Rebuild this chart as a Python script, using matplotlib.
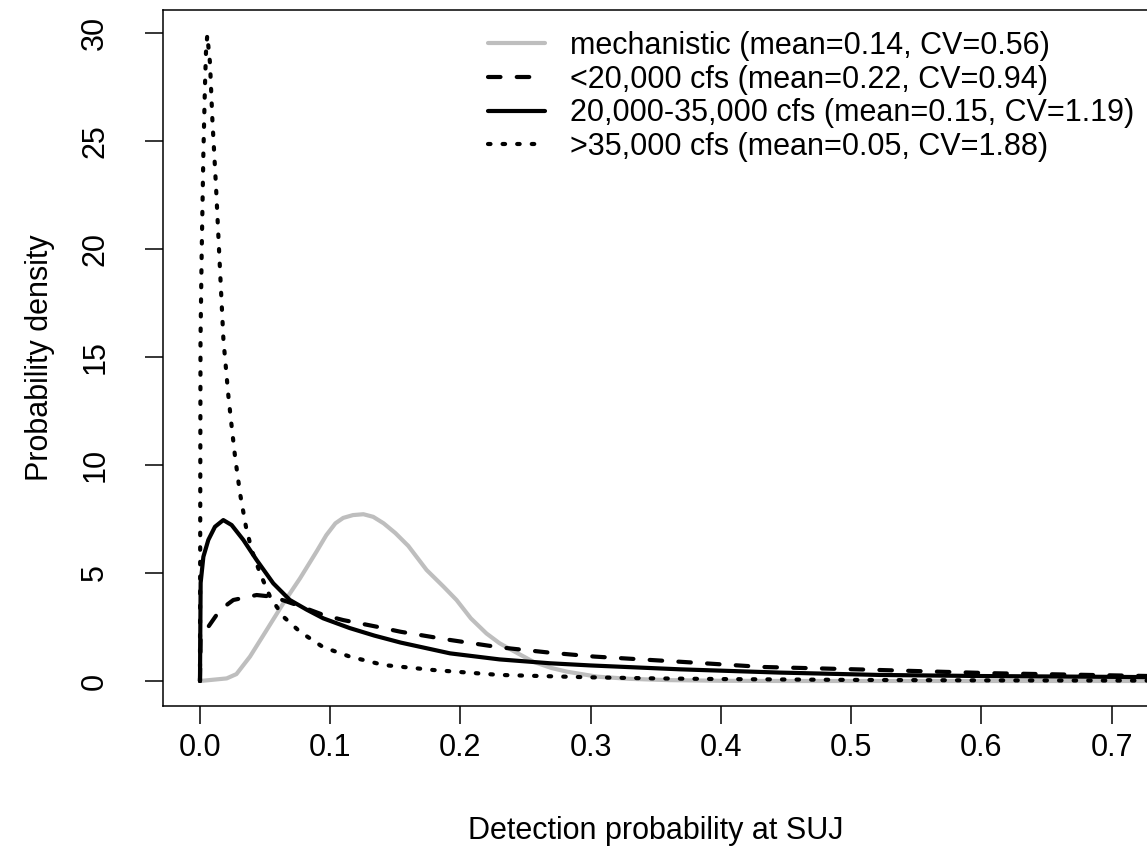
import matplotlib
matplotlib.use("Agg")
import matplotlib.pyplot as plt

plt.rcParams['font.family'] = ['Liberation Sans', 'DejaVu Sans']

# ---- data ----
mech_x = [0, 0.0205, 0.028, 0.0384, 0.0512, 0.064, 0.0768, 0.0896, 0.0970, 0.1040,
          0.110, 0.1175, 0.1255, 0.133, 0.141, 0.15, 0.16, 0.174, 0.187, 0.197,
          0.208, 0.220, 0.230, 0.241, 0.256, 0.270, 0.282, 0.305, 0.33, 0.36,
          0.40, 0.45, 0.73]
mech_y = [0, 0.12, 0.32, 1.13, 2.36, 3.6, 4.75, 6.0, 6.75, 7.3,
          7.55, 7.68, 7.72, 7.6, 7.3, 6.85, 6.25, 5.14, 4.37, 3.75,
          2.9, 2.2, 1.75, 1.38, 0.89, 0.6, 0.43, 0.2, 0.1, 0.04,
          0.01, 0.0, 0.0]

low_x = [0, 0.0005, 0.0064, 0.0154, 0.0256, 0.0435, 0.056, 0.0743, 0.0947, 0.110,
         0.136, 0.154, 0.192, 0.23, 0.269, 0.303, 0.369, 0.432, 0.51, 0.609, 0.73]
low_y = [0, 2.0, 2.51, 3.29, 3.75, 3.98, 3.9, 3.52, 3.06, 2.82,
         2.51, 2.28, 1.90, 1.56, 1.31, 1.13, 0.89, 0.65, 0.53, 0.36, 0.23]

mid_x = [0, 0.0005, 0.0026, 0.0064, 0.0115, 0.0179, 0.0243, 0.0333, 0.0435, 0.0563,
         0.069, 0.082, 0.0947, 0.115, 0.134, 0.154, 0.192, 0.23, 0.269, 0.30,
         0.369, 0.445, 0.522, 0.6, 0.73]
mid_y = [0, 4.54, 5.75, 6.53, 7.14, 7.45, 7.22, 6.53, 5.6, 4.52,
         3.75, 3.3, 2.9, 2.45, 2.1, 1.78, 1.28, 1.0, 0.82, 0.72,
         0.54, 0.39, 0.28, 0.23, 0.18]

high_x = [0, 0.0004, 0.0013, 0.0026, 0.0038, 0.0046, 0.0056, 0.0077, 0.0095, 0.0123,
          0.015, 0.018, 0.0218, 0.0243, 0.0269, 0.0307, 0.0353, 0.0397, 0.0461, 0.0538,
          0.064, 0.0768, 0.0945, 0.115, 0.141, 0.179, 0.23, 0.30, 0.35, 0.40,
          0.5, 0.6, 0.73]
high_y = [0, 15.8, 19.8, 24.4, 27.5, 29.1, 29.9, 28.6, 26.0, 22.9,
          19.5, 15.8, 13.2, 11.8, 10.4, 8.7, 7.14, 6.06, 5.0, 3.9,
          2.98, 2.28, 1.57, 1.13, 0.74, 0.51, 0.28, 0.17, 0.12, 0.09,
          0.05, 0.03, 0.02]

labels = ["mechanistic (mean=0.14, CV=0.56)",
          "<20,000 cfs (mean=0.22, CV=0.94)",
          "20,000-35,000 cfs (mean=0.15, CV=1.19)",
          ">35,000 cfs (mean=0.05, CV=1.88)"]

xticks = [0.0, 0.1, 0.2, 0.3, 0.4, 0.5, 0.6, 0.7]
xticklabels = ["0.0", "0.1", "0.2", "0.3", "0.4", "0.5", "0.6", "0.7"]
yticks = [0, 5, 10, 15, 20, 25, 30]
yticklabels = ["0", "5", "10", "15", "20", "25", "30"]

# ---- figure ----
W, H = 1147, 849
fig = plt.figure(figsize=(W / 100, H / 100), dpi=100)
L, R, T, B = 163, 1148, 10, 706
ax = fig.add_axes([L / W, 1 - B / H, (R - L) / W, (B - T) / H])

lw = 3.0
ax.plot(mech_x, mech_y, color="#BEBEBE", lw=lw, solid_capstyle="round",
        solid_joinstyle="round", label=labels[0])
ax.plot(low_x, low_y, color="black", lw=lw, linestyle=(0, (3.0, 3.9)),
        dash_capstyle="round", label=labels[1])
ax.plot(mid_x, mid_y, color="black", lw=lw, solid_capstyle="round",
        solid_joinstyle="round", label=labels[2])
ax.plot(high_x, high_y, color="black", lw=lw, linestyle=(0, (0.6, 2.9)),
        dash_capstyle="round", label=labels[3])

ax.set_xlim(-0.0284, 0.728)
ax.set_ylim(-1.157, 31.06)

fs = 22
ax.set_xticks(xticks)
ax.set_xticklabels(xticklabels, fontsize=fs)
ax.set_yticks(yticks)
ax.set_yticklabels(yticklabels, fontsize=fs, rotation=90, va="center", ha="center")
ax.tick_params(axis="both", direction="out", length=12.8, width=1.1, colors="black")
ax.tick_params(axis="x", pad=7)
ax.tick_params(axis="y", pad=36)

for s in ax.spines.values():
    s.set_linewidth(1.1)
    s.set_color("black")

ax.set_xlabel("Detection probability at SUJ", fontsize=fs, va="center")
ax.xaxis.set_label_coords(0.5, (B - 831) / (B - T))
ax.set_ylabel("Probability density", fontsize=fs, va="center", ha="center")
ax.yaxis.set_label_coords((40 - L) / (R - L), 0.5)

leg = ax.legend(loc="upper left", bbox_to_anchor=((488 - L) / (R - L), (B - 31) / (B - T)),
                frameon=False, fontsize=fs, handlelength=1.85, handletextpad=0.85,
                labelspacing=0.12, borderpad=0, borderaxespad=0)

fig.savefig("out.png", dpi=100)
